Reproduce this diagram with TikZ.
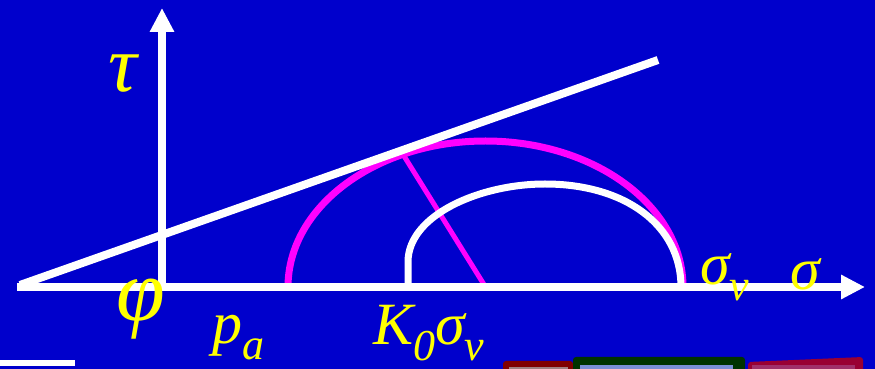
\documentclass[tikz,border=0pt]{standalone}
\usepackage{fontspec}
\setmainfont{Liberation Serif}
\usetikzlibrary{arrows.meta,calc}
\definecolor{SlideBlue}{HTML}{0000CC}
\definecolor{SlideYellow}{HTML}{FFFF00}
\definecolor{SlidePink}{HTML}{FF00FF}
\definecolor{BtnRed}{HTML}{800000}
\definecolor{BtnRedIn}{HTML}{A08080}
\definecolor{BtnGreen}{HTML}{003300}
\definecolor{BtnGreenIn}{HTML}{7B8FD6}
\definecolor{BtnRose}{HTML}{990033}
\definecolor{BtnRoseIn}{HTML}{A0306A}
\newcommand{\lblsub}[1]{\raisebox{-16pt}{\fontsize{44}{44}\selectfont #1}}
\tikzset{
  axisline/.style={draw=white,line width=8pt,-{Triangle[length=24pt,width=23pt]}},
  envline/.style={draw=white,line width=8pt},
  circpink/.style={draw=SlidePink,line width=7pt},
  circwhite/.style={draw=white,line width=7pt},
  polelink/.style={draw=SlidePink,line width=5pt},
  lbl/.style={text=SlideYellow,inner sep=0pt,anchor=base west,font=\fontsize{60}{60}\selectfont\itshape},
  biglbl/.style={lbl,font=\fontsize{84}{84}\selectfont\itshape},
  navbtn/.style={rounded corners=3pt}
}

\begin{document}
\begin{tikzpicture}[x=1pt,y=1pt]
\useasboundingbox (0,0) rectangle (875,369);
\fill[SlideBlue] (0,0) rectangle (875,369);
\clip (0,0) rectangle (875,369);
\coordinate (xs) at (17,82);
\coordinate (xe) at (865,82);
\coordinate (o) at (162,82);
\coordinate (ye) at (162,361);
\coordinate (es) at (20,84);
\coordinate (ee) at (658,309);
\coordinate (cp) at (485.5,82);
\coordinate (tp) at ($(cp)+(114.7:197.5 and 146)$);
\draw[circpink] (288,82) arc[start angle=180,end angle=0,x radius=197.5,y radius=146];
\draw[polelink] (tp) -- (cp);
\draw[circwhite] (408,82) -- (408,107) .. controls (408,154) and (480,185) .. (545,185) .. controls (625,185) and (681,144) .. (681,82);
\draw[envline] (es) -- (ee);
\draw[axisline] (xs) -- (xe);
\draw[axisline] (o) -- (ye);
\node[biglbl,font=\fontsize{80}{80}\selectfont\itshape] (tau) at (108,277) {τ};
\node[biglbl,font=\fontsize{88}{88}\selectfont\itshape] (phi) at (116,48) {φ};
\node[lbl] (pa) at (212,25) {p\lblsub{a}};
\node[lbl] (k0sv) at (373,24) {K\lblsub{0}σ\lblsub{v}};
\node[lbl] (sv) at (700,84) {σ\lblsub{v}};
\node[lbl] (sig) at (790,79) {σ};
\fill[white] (0,3) rectangle (75,9);
\fill[BtnRed,navbtn] (503,-5) rectangle (573,8);
\fill[BtnRedIn] (509,-5) rectangle (568,1.5);
\fill[BtnGreen,navbtn] (573,-5) rectangle (745,12);
\fill[BtnGreenIn] (580,-5) rectangle (733,4);
\fill[BtnRose,navbtn] (748,-5) -- (748,7) -- (863,12) -- (863,-5) -- cycle;
\fill[BtnRoseIn] (752,-5) rectangle (855,4);
\end{tikzpicture}
\end{document}
